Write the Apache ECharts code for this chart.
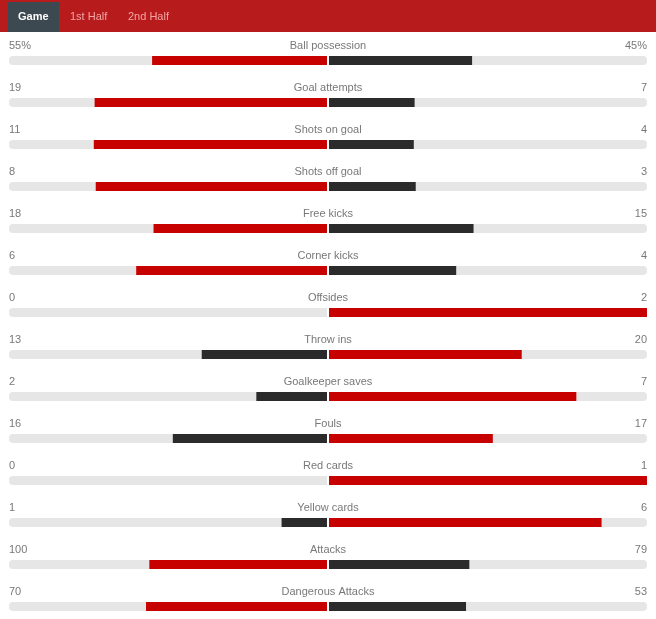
<!DOCTYPE html>
<html>
<head>
<meta charset="utf-8">
<script src="https://cdn.jsdelivr.net/npm/echarts@6/dist/echarts.min.js"></script>
<style>
  html, body { margin: 0; padding: 0; background: #fff; }
  #main { width: 656px; height: 619px; }
</style>
</head>
<body>
<div id="main"></div>
<script>
// 比赛统计数据
var statNames = ['Ball possession', 'Goal attempts', 'Shots on goal', 'Shots off goal', 'Free kicks',
  'Corner kicks', 'Offsides', 'Throw ins', 'Goalkeeper saves', 'Fouls', 'Red cards',
  'Yellow cards', 'Attacks', 'Dangerous Attacks'];
var homeValues = [55, 19, 11, 8, 18, 6, 0, 13, 2, 16, 0, 1, 100, 70];
var awayValues = [45, 7, 4, 3, 15, 4, 2, 20, 7, 17, 1, 6, 79, 53];
var valueSuffix = ['%', '', '', '', '', '', '', '', '', '', '', '', '', ''];
var tabNames = ['Game', '1st Half', '2nd Half'];

var RED = '#c70000', DARK = '#2b2b2b', GREY = '#e6e6e6';
var FONT = '"Liberation Sans", Arial, sans-serif';

var homeData = [], awayData = [];
homeValues.forEach(function (h, i) {
  var a = awayValues[i], total = h + a;
  var hf = total ? h / total : 0, af = total ? a / total : 0;
  homeData.push({ value: hf, itemStyle: { color: h >= a ? RED : DARK } });
  awayData.push({ value: af, itemStyle: { color: a >= h ? RED : DARK } });
});

// 行中心: 第一行 60.5, 行距 42
var gridTop = 60.5, gridH = 13 * 42;
function yCat(idx) {
  return {
    type: 'category', gridIndex: idx, data: statNames, inverse: true,
    boundaryGap: false, show: false
  };
}

var textSeries = function (x, pos, fmt) {
  return {
    type: 'scatter', xAxisIndex: 2, yAxisIndex: 2, symbolSize: 0, silent: true,
    data: statNames.map(function (n, i) { return [x, i]; }),
    label: {
      show: true, position: pos, distance: 0, offset: [0, -14.5],
      color: '#555', fontSize: 11, fontFamily: FONT,
      formatter: fmt
    }
  };
};

var option = {
  animation: false,
  graphic: [
    { type: 'rect', shape: { x: 0, y: 0, width: 656, height: 32 }, style: { fill: '#b71b1c' } },
    { type: 'rect', shape: { x: 8, y: 2, width: 51, height: 30 }, style: { fill: '#3c4951' } },
    { type: 'text', left: 18, top: 11, style: { text: tabNames[0], fill: '#fff', font: 'bold 11px ' + FONT } },
    { type: 'text', left: 70, top: 11, style: { text: tabNames[1], fill: '#f3a5a5', font: '11px ' + FONT } },
    { type: 'text', left: 128, top: 11, style: { text: tabNames[2], fill: '#f3a5a5', font: '11px ' + FONT } }
  ],
  grid: [
    { left: 9, width: 318, top: gridTop, height: gridH },
    { left: 329, width: 318, top: gridTop, height: gridH },
    { left: 9, width: 638, top: gridTop, height: gridH }
  ],
  xAxis: [
    { type: 'value', gridIndex: 0, min: 0, max: 1, inverse: true, show: false },
    { type: 'value', gridIndex: 1, min: 0, max: 1, show: false },
    { type: 'value', gridIndex: 2, min: -1, max: 1, show: false }
  ],
  yAxis: [yCat(0), yCat(1), yCat(2)],
  series: [
    {
      type: 'bar', xAxisIndex: 0, yAxisIndex: 0, barWidth: 9, data: homeData,
      showBackground: true, backgroundStyle: { color: GREY, borderRadius: [4, 0, 0, 4] }
    },
    {
      type: 'bar', xAxisIndex: 1, yAxisIndex: 1, barWidth: 9, data: awayData,
      showBackground: true, backgroundStyle: { color: GREY, borderRadius: [0, 4, 4, 0] }
    },
    textSeries(-1, 'right', function (p) { return homeValues[p.dataIndex] + valueSuffix[p.dataIndex]; }),
    textSeries(0, 'inside', function (p) { return statNames[p.dataIndex]; }),
    textSeries(1, 'left', function (p) { return awayValues[p.dataIndex] + valueSuffix[p.dataIndex]; })
  ]
};

var myChart = echarts.init(document.getElementById('main'));
myChart.setOption(option);
</script>
</body>
</html>
